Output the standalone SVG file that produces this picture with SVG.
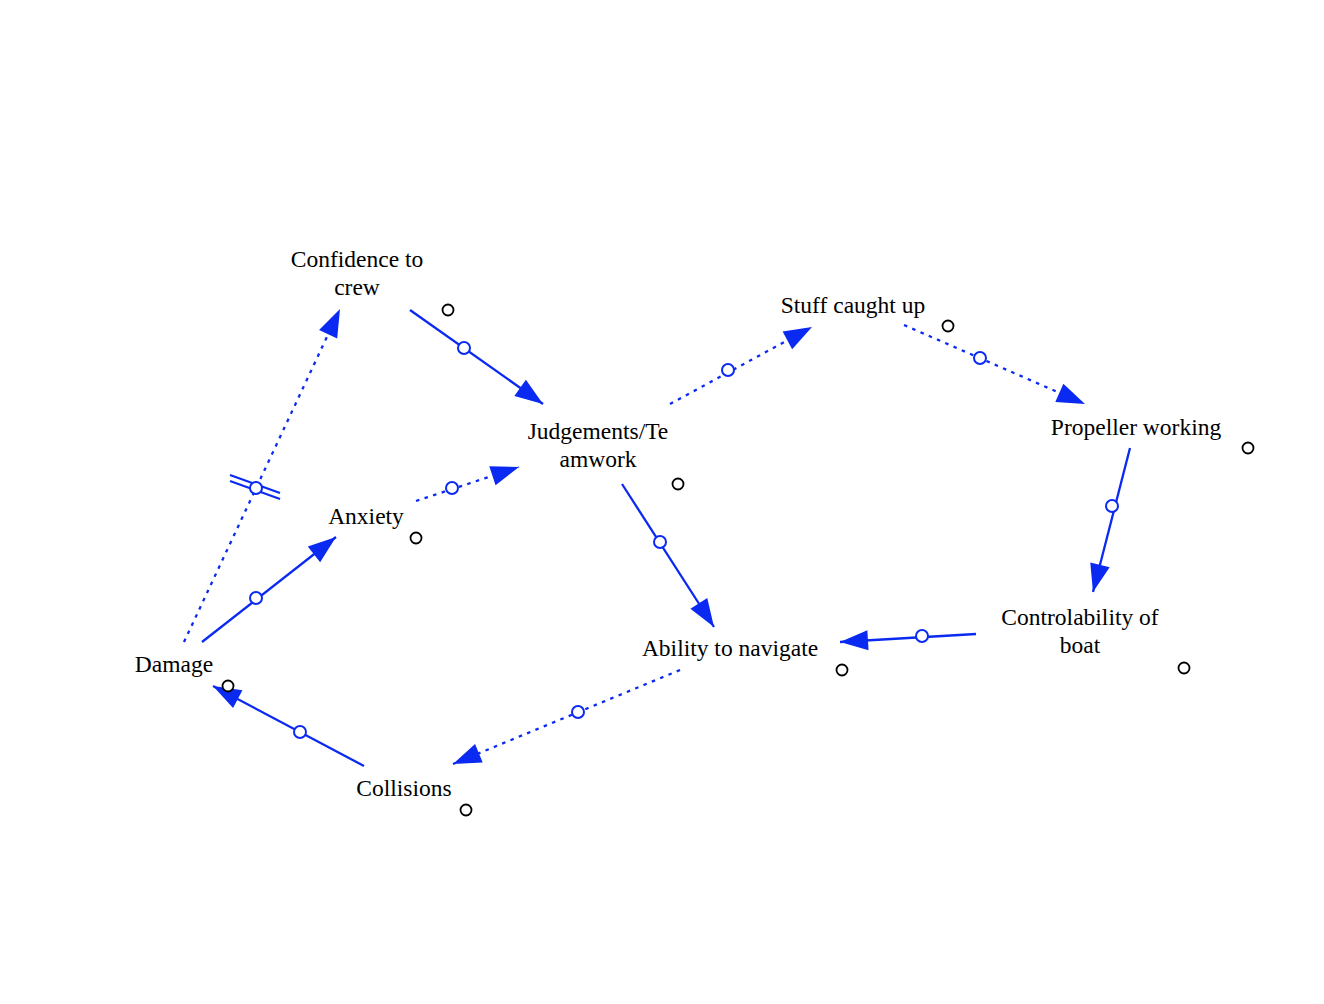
<svg xmlns="http://www.w3.org/2000/svg" width="1324" height="1004" viewBox="0 0 1324 1004">
<style>
.lbl{font-family:"Liberation Serif","Times New Roman",serif;font-size:23.5px;fill:#000;text-anchor:middle}
.e{fill:none;stroke:#0a2af2;stroke-width:2.3}
.d{stroke-dasharray:3.5 5.5}
.p{fill:#fff;stroke:#0a2af2;stroke-width:2}
.k{fill:#fff;stroke:#000;stroke-width:1.8}
.ah{fill:#0a2af2;stroke:none}
</style>
<defs>
<marker id="ah" markerUnits="userSpaceOnUse" markerWidth="32" markerHeight="24" viewBox="-30 -12 32 24" refX="0" refY="0" orient="auto">
<path class="ah" d="M0,0 L-28,-10 L-28,10 z"/>
</marker>
</defs>
<rect width="1324" height="1004" fill="#fff"/>
<g id="connectors">
<g id="e-confidence-judgements"><line class="e" x1="410" y1="310" x2="543" y2="404" marker-end="url(#ah)"/><circle class="p" cx="464" cy="348" r="6"/></g>
<g id="e-judgements-stuff"><line class="e d" x1="670" y1="404" x2="812" y2="327" marker-end="url(#ah)"/><circle class="p" cx="728" cy="370" r="6"/></g>
<g id="e-stuff-propeller"><line class="e d" x1="904" y1="325" x2="1085" y2="404" marker-end="url(#ah)"/><circle class="p" cx="980" cy="358" r="6"/></g>
<g id="e-propeller-control"><line class="e" x1="1130" y1="448" x2="1093" y2="592" marker-end="url(#ah)"/><circle class="p" cx="1112" cy="506" r="6"/></g>
<g id="e-control-ability"><line class="e" x1="976" y1="634" x2="840" y2="642" marker-end="url(#ah)"/><circle class="p" cx="922" cy="636" r="6"/></g>
<g id="e-judgements-ability"><line class="e" x1="622" y1="484" x2="714" y2="627" marker-end="url(#ah)"/><circle class="p" cx="660" cy="542" r="6"/></g>
<g id="e-ability-collisions"><line class="e d" x1="680" y1="670" x2="453" y2="764" marker-end="url(#ah)"/><circle class="p" cx="578" cy="712" r="6"/></g>
<g id="e-collisions-damage"><line class="e" x1="364" y1="766" x2="213" y2="686" marker-end="url(#ah)"/><circle class="p" cx="300" cy="732" r="6"/></g>
<g id="e-damage-anxiety"><line class="e" x1="202" y1="642" x2="336" y2="537" marker-end="url(#ah)"/><circle class="p" cx="256" cy="598" r="6"/></g>
<g id="e-anxiety-judgements"><line class="e d" x1="416" y1="501" x2="519" y2="467" marker-end="url(#ah)"/><circle class="p" cx="452" cy="488" r="6"/></g>
<g id="e-damage-confidence"><line class="e d" x1="184" y1="642" x2="340" y2="309" marker-end="url(#ah)"/><line class="e" x1="230" y1="475" x2="280" y2="493"/><line class="e" x1="230" y1="481" x2="280" y2="499"/><circle class="p" cx="256" cy="488" r="6"/></g>
</g>
<g id="n-confidence"><text class="lbl" x="357" y="267">Confidence to</text><text class="lbl" x="357" y="295">crew</text><circle class="k" cx="448" cy="310" r="5.5"/></g>
<g id="n-stuff"><text class="lbl" x="853" y="313">Stuff caught up</text><circle class="k" cx="948" cy="326" r="5.5"/></g>
<g id="n-judgements"><text class="lbl" x="598" y="439">Judgements/Te</text><text class="lbl" x="598" y="467">amwork</text><circle class="k" cx="678" cy="484" r="5.5"/></g>
<g id="n-propeller"><text class="lbl" x="1136" y="435">Propeller working</text><circle class="k" cx="1248" cy="448" r="5.5"/></g>
<g id="n-anxiety"><text class="lbl" x="366" y="524">Anxiety</text><circle class="k" cx="416" cy="538" r="5.5"/></g>
<g id="n-damage"><text class="lbl" x="174" y="672">Damage</text><circle class="k" cx="228" cy="686" r="5.5"/></g>
<g id="n-ability"><text class="lbl" x="730" y="656">Ability to navigate</text><circle class="k" cx="842" cy="670" r="5.5"/></g>
<g id="n-control"><text class="lbl" x="1080" y="625">Controlability of</text><text class="lbl" x="1080" y="653">boat</text><circle class="k" cx="1184" cy="668" r="5.5"/></g>
<g id="n-collisions"><text class="lbl" x="404" y="796">Collisions</text><circle class="k" cx="466" cy="810" r="5.5"/></g>
</svg>
